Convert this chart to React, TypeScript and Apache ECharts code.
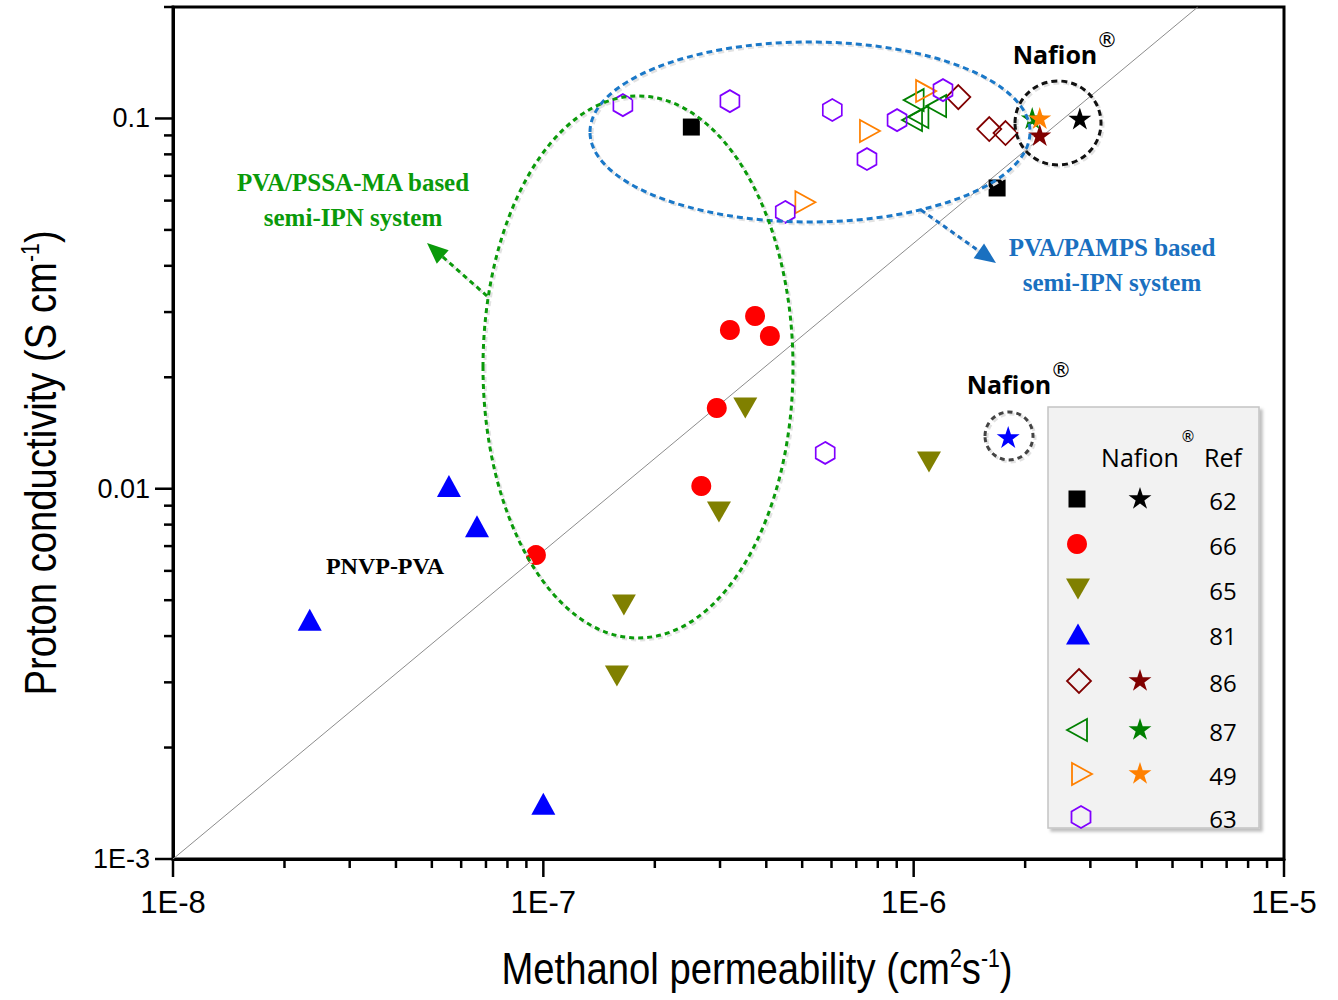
import React, { useEffect, useRef } from 'react';
import * as echarts from 'echarts';

// ---------- axis data ----------
const X_MIN = 1e-8;
const X_MAX = 1e-5;
const Y_MIN = 1e-3;
const Y_MAX = 0.2;
const xMajorTicks = [1e-8, 1e-7, 1e-6, 1e-5];
const xTickLabels = ['1E-8', '1E-7', '1E-6', '1E-5'];
const yMajorTicks = [1e-3, 1e-2, 1e-1];
const yTickLabels = ['1E-3', '0.01', '0.1'];
const xDecades = [1e-8, 1e-7, 1e-6];
const yDecades = [1e-3, 1e-2, 1e-1];
const minorMultipliers = [2, 3, 4, 5, 6, 7, 8, 9];
const xTitle = 'Methanol permeability (cm{sup|2}s{sup|-1})';
const yTitle = 'Proton conductivity (S cm{sup|-1})';

// ---------- series data [methanol permeability, proton conductivity] ----------
const ref62 = [[2.51e-7, 0.0948], [1.68e-6, 0.0649]];
const nafion62 = [[2.81e-6, 0.1]];
const ref66 = [
  [9.55e-8, 0.00662], [2.67e-7, 0.01017], [2.94e-7, 0.01652],
  [3.19e-7, 0.02683], [3.73e-7, 0.02927], [4.09e-7, 0.02585],
];
const ref65 = [
  [3.51e-7, 0.01652], [2.98e-7, 0.00865], [1.65e-7, 0.00485],
  [1.58e-7, 0.00312], [1.10e-6, 0.0118],
];
const ref81 = [[5.56e-8, 0.01017], [6.62e-8, 0.00792], [2.34e-8, 0.00443], [1.0e-7, 0.00141]];
const nafion81 = [[1.8e-6, 0.0138]];
const ref86 = [[1.32e-6, 0.1142], [1.6e-6, 0.0936], [1.77e-6, 0.0913]];
const nafion86 = [[2.19e-6, 0.0902]];
const ref87 = [[1.0e-6, 0.1121], [1.15e-6, 0.108], [9.9e-7, 0.099], [1.03e-6, 0.1009]];
const nafion87 = [[2.09e-6, 0.1003]];
const ref49 = [[7.62e-7, 0.0925], [5.1e-7, 0.0594], [1.08e-6, 0.1186]];
const nafion49 = [[2.19e-6, 0.1003]];
const ref63 = [
  [1.64e-7, 0.1087], [3.19e-7, 0.1114], [6.03e-7, 0.1054], [7.48e-7, 0.0777],
  [9.02e-7, 0.099], [1.2e-6, 0.1193], [4.5e-7, 0.0559], [5.77e-7, 0.01249],
];
const diagonalLine = [[1e-8, 1e-3], [5.85e-6, 0.2]];

const legendRefs = ['62', '66', '65', '81', '86', '87', '49', '63'];

// ---------- styling ----------
const SANS = "'Liberation Sans', Arial, sans-serif";
const SERIF = "'Liberation Serif', 'Times New Roman', serif";
const UI = "'Open Sans', 'Noto Sans', sans-serif";

const STAR_PATH =
  'path://M0,-1L0.2245,-0.309L0.951,-0.309L0.363,0.118L0.588,0.809L0,0.382L-0.588,0.809L-0.363,0.118L-0.951,-0.309L-0.2245,-0.309Z';
const HEX_PATH = 'path://M0,-1L0.866,-0.5L0.866,0.5L0,1L-0.866,0.5L-0.866,-0.5Z';

const BLACK = '#000000';
const RED = '#ff0000';
const OLIVE = '#808000';
const BLUE = '#0000ff';
const MAROON = '#800000';
const GREEN = '#008000';
const ORANGE = '#ff8000';
const VIOLET = '#8000ff';
const TXT_GREEN = '#0a9a0a';
const TXT_BLUE = '#1a70c0';

function scatter(name: string, data: number[][], symbol: string, size: any, color: string, hollow: boolean, rotate = 0, z = 3) {
  return {
    type: 'scatter',
    name,
    data,
    symbol,
    symbolSize: size,
    symbolRotate: rotate,
    silent: true,
    z,
    itemStyle: hollow
      ? { color: 'rgba(0,0,0,0)', borderColor: color, borderWidth: 1.8, opacity: 1 }
      : { color, borderWidth: 0, opacity: 1 },
    emphasis: { disabled: true },
  };
}

// ---------- pixel helpers for annotations / legend ----------
function starPts(cx: number, cy: number, r: number) {
  const pts: number[][] = [];
  for (let i = 0; i < 10; i++) {
    const a = -Math.PI / 2 + (i * Math.PI) / 5;
    const rr = i % 2 === 0 ? r : r * 0.382;
    pts.push([cx + rr * Math.cos(a), cy + rr * Math.sin(a)]);
  }
  return pts;
}
function hexPts(cx: number, cy: number, w: number, h: number) {
  return [
    [cx, cy - h / 2], [cx + w / 2, cy - h / 4], [cx + w / 2, cy + h / 4],
    [cx, cy + h / 2], [cx - w / 2, cy + h / 4], [cx - w / 2, cy - h / 4],
  ];
}
function triPts(cx: number, cy: number, w: number, h: number, dir: string) {
  if (dir === 'up') return [[cx, cy - h / 2], [cx + w / 2, cy + h / 2], [cx - w / 2, cy + h / 2]];
  if (dir === 'down') return [[cx, cy + h / 2], [cx + w / 2, cy - h / 2], [cx - w / 2, cy - h / 2]];
  if (dir === 'left') return [[cx - w / 2, cy], [cx + w / 2, cy - h / 2], [cx + w / 2, cy + h / 2]];
  return [[cx + w / 2, cy], [cx - w / 2, cy - h / 2], [cx - w / 2, cy + h / 2]];
}
function diamondPts(cx: number, cy: number, w: number, h: number) {
  return [[cx, cy - h / 2], [cx + w / 2, cy], [cx, cy + h / 2], [cx - w / 2, cy]];
}
function arrow(x1: number, y1: number, x2: number, y2: number, color: string) {
  const dx = x2 - x1;
  const dy = y2 - y1;
  const len = Math.sqrt(dx * dx + dy * dy);
  const ux = dx / len;
  const uy = dy / len;
  const L = 21;
  const W = 9;
  const bx = x2 - ux * L;
  const by = y2 - uy * L;
  return [
    {
      type: 'line',
      shape: { x1: x1 + 2, y1: y1 + 2, x2: bx + 2, y2: by + 2 },
      style: { stroke: '#e2e2e2', lineWidth: 3, lineDash: [5, 4] },
      z: 50,
    },
    {
      type: 'line',
      shape: { x1, y1, x2: bx, y2: by },
      style: { stroke: color, lineWidth: 3, lineDash: [5, 4] },
      z: 51,
    },
    {
      type: 'polygon',
      shape: { points: [[x2, y2], [bx - uy * W, by + ux * W], [bx + uy * W, by - ux * W]] },
      style: { fill: color },
      z: 51,
    },
  ];
}
function dashedEllipse(cx: number, cy: number, rx: number, ry: number, color: string, dash: number[]) {
  return [
    {
      type: 'ellipse',
      shape: { cx: cx + 2, cy: cy + 2, rx, ry },
      style: { fill: 'none', stroke: '#e2e2e2', lineWidth: 3, lineDash: dash },
      z: 50,
    },
    {
      type: 'ellipse',
      shape: { cx, cy, rx, ry },
      style: { fill: 'none', stroke: color, lineWidth: 3, lineDash: dash },
      z: 51,
    },
  ];
}
function txt(text: string, x: number, y: number, size: number, family: string, weight: string, fill: string, align = 'center') {
  return {
    type: 'text',
    z: 60,
    style: {
      text, x, y, fontSize: size, fontFamily: family, fontWeight: weight, fill,
      align, verticalAlign: 'middle', textAlign: align, textVerticalAlign: 'middle',
    },
  };
}
function axisTitle(text: string, x: number, y: number, rotation: number) {
  return {
    type: 'text',
    x,
    y,
    rotation,
    scaleX: 0.85,
    scaleY: 1,
    z: 60,
    style: {
      text,
      x: 0,
      y: 0,
      fontSize: 45,
      fontFamily: SANS,
      fill: '#000',
      align: 'center',
      verticalAlign: 'middle',
      textAlign: 'center',
      textVerticalAlign: 'middle',
      rich: {
        sup: { fontSize: 25, fontFamily: SANS, fill: '#000', verticalAlign: 'top', padding: [0, 0, 14, 0] },
      },
    },
  };
}

function buildOption() {
  const xTickData: number[][] = [];
  xMajorTicks.forEach((v) => xTickData.push([v, Y_MIN, 1, 0]));
  xDecades.forEach((d) => minorMultipliers.forEach((m) => xTickData.push([d * m, Y_MIN, 0, 0])));
  const yTickData: number[][] = [];
  yMajorTicks.forEach((v) => yTickData.push([X_MIN, v, 1, 1]));
  yDecades.forEach((d) =>
    minorMultipliers.forEach((m) => {
      if (d * m <= Y_MAX * 1.0001) yTickData.push([X_MIN, d * m, 0, 1]);
    })
  );

  const labelFor = (v: number, majors: number[], labels: string[]) => {
    const l = Math.log10(v);
    for (let i = 0; i < majors.length; i++) {
      if (Math.abs(Math.log10(majors[i]) - l) < 1e-6) return labels[i];
    }
    return '';
  };

  // legend layout (pixel)
  const LX = 1077;
  const SX = 1140;
  const NX = 1223;
  const rowY = [499, 544, 589, 634, 681, 730, 774, 817];
  const legendEls: any[] = [
    {
      type: 'rect',
      shape: { x: 1048, y: 407, width: 211, height: 421 },
      style: {
        fill: '#f2f2f2', stroke: '#c4c4c4', lineWidth: 1.5,
        shadowBlur: 3, shadowColor: 'rgba(0,0,0,0.25)', shadowOffsetX: 3, shadowOffsetY: 3,
      },
      z: 70,
    },
    { ...txt('Nafion', SX, 457, 25, UI, 'normal', '#000'), z: 71 },
    { ...txt('®', 1188, 437, 15, "'DejaVu Sans', sans-serif", 'normal', '#000'), z: 71 },
    { ...txt('Ref', NX, 457, 25, UI, 'normal', '#000'), z: 71 },
  ];
  const filled = (color: string) => ({ fill: color });
  const hollow = (color: string) => ({ fill: 'none', stroke: color, lineWidth: 1.8 });
  const shapes: any[] = [
    { type: 'rect', shape: { x: LX - 8.5, y: rowY[0] - 8.5, width: 17, height: 17 }, style: filled(BLACK) },
    { type: 'circle', shape: { cx: LX, cy: rowY[1], r: 10 }, style: filled(RED) },
    { type: 'polygon', shape: { points: triPts(LX + 1, rowY[2], 24, 21, 'down') }, style: filled(OLIVE) },
    { type: 'polygon', shape: { points: triPts(LX + 1, rowY[3], 24, 21, 'up') }, style: filled(BLUE) },
    { type: 'polygon', shape: { points: diamondPts(LX + 2, rowY[4], 24, 24) }, style: hollow(MAROON) },
    { type: 'polygon', shape: { points: triPts(LX, rowY[5], 20, 22, 'left') }, style: hollow(GREEN) },
    { type: 'polygon', shape: { points: triPts(LX + 5, rowY[6], 20, 22, 'right') }, style: hollow(ORANGE) },
    { type: 'polygon', shape: { points: hexPts(LX + 4, rowY[7], 19, 22) }, style: hollow(VIOLET) },
  ];
  shapes.forEach((s) => legendEls.push({ ...s, z: 71 }));
  const stars: [number, string][] = [[0, BLACK], [4, MAROON], [5, GREEN], [6, ORANGE]];
  stars.forEach(([i, c]) =>
    legendEls.push({ type: 'polygon', shape: { points: starPts(SX, rowY[i], 12) }, style: filled(c), z: 71 })
  );
  legendRefs.forEach((r, i) => legendEls.push({ ...txt(r, NX, rowY[i] + 1, 24, UI, 'normal', '#000'), z: 71 }));

  const graphicEls: any[] = [
    ...dashedEllipse(810, 132, 220, 90, '#1a78c8', [6, 4]),
    ...dashedEllipse(638, 367, 155, 271, TXT_GREEN, [5, 4]),
    ...dashedEllipse(1058, 123, 43, 42, '#111111', [6, 4]),
    ...dashedEllipse(1009, 436, 24, 24, '#444444', [5, 4]),
    ...arrow(487, 296, 427, 243, TXT_GREEN),
    ...arrow(921, 210, 996, 263, '#1a70c0'),
    txt('PVA/PSSA-MA based', 353, 182, 25, SERIF, 'bold', TXT_GREEN),
    txt('semi-IPN system', 353, 217, 25, SERIF, 'bold', TXT_GREEN),
    txt('PVA/PAMPS based', 1112, 247, 25, SERIF, 'bold', TXT_BLUE),
    txt('semi-IPN system', 1112, 282, 25, SERIF, 'bold', TXT_BLUE),
    txt('PNVP-PVA', 385, 566, 24, SERIF, 'bold', '#000'),
    txt('Nafion', 1055, 54, 25, UI, 'bold', '#000'),
    txt('®', 1107, 40, 21, "'DejaVu Sans', sans-serif", 'normal', '#000'),
    txt('Nafion', 1009, 384, 25, UI, 'bold', '#000'),
    txt('®', 1061, 370, 21, "'DejaVu Sans', sans-serif", 'normal', '#000'),
    axisTitle(xTitle, 757, 968, 0),
    axisTitle(yTitle, 40, 463, Math.PI / 2),
    ...legendEls,
  ];

  const tickSeries = {
    type: 'custom',
    silent: true,
    clip: false,
    z: 10,
    data: [...xTickData, ...yTickData],
    encode: { x: 0, y: 1 },
    renderItem: (_p: any, api: any) => {
      const p = api.coord([api.value(0), api.value(1)]);
      const len = api.value(2) === 1 ? 18 : 9;
      const horiz = api.value(3) === 1;
      return {
        type: 'line',
        shape: horiz
          ? { x1: p[0], y1: p[1], x2: p[0] - len, y2: p[1] }
          : { x1: p[0], y1: p[1], x2: p[0], y2: p[1] + len },
        style: { stroke: '#000', lineWidth: 2.5 },
      };
    },
  };

  return {
    animation: false,
    backgroundColor: '#ffffff',
    grid: {
      left: 173, right: 54, top: 7, bottom: 141,
      show: true, borderColor: '#000', borderWidth: 3, backgroundColor: 'transparent',
    },
    xAxis: {
      type: 'log',
      logBase: 10,
      min: X_MIN,
      max: X_MAX,
      axisLine: { show: true, lineStyle: { color: '#000', width: 3 } },
      axisTick: { show: false },
      minorTick: { show: false },
      splitLine: { show: false },
      axisLabel: {
        color: '#000', fontFamily: SANS, fontSize: 31, margin: 28,
        showMinLabel: true, showMaxLabel: true,
        formatter: (v: number) => labelFor(v, xMajorTicks, xTickLabels),
      },
    },
    yAxis: {
      type: 'log',
      logBase: 10,
      min: Y_MIN,
      max: Y_MAX,
      axisLine: { show: true, lineStyle: { color: '#000', width: 3 } },
      axisTick: { show: false },
      minorTick: { show: false },
      splitLine: { show: false },
      axisLabel: {
        color: '#000', fontFamily: SANS, fontSize: 27, margin: 23,
        showMaxLabel: false,
        formatter: (v: number) => labelFor(v, yMajorTicks, yTickLabels),
      },
    },
    series: [
      {
        type: 'line',
        data: diagonalLine,
        symbol: 'none',
        silent: true,
        z: 1,
        lineStyle: { color: '#8c8c8c', width: 1 },
      },
      tickSeries,
      scatter('62', ref62, 'rect', 17, BLACK, false),
      scatter('66', ref66, 'circle', 20, RED, false),
      scatter('65', ref65, 'triangle', [24, 21], OLIVE, false, 180),
      scatter('81', ref81, 'triangle', [24, 22], BLUE, false),
      scatter('86', ref86, 'diamond', [24, 24], MAROON, true),
      scatter('87', ref87, 'triangle', [22, 20], GREEN, true, 90),
      scatter('49', ref49, 'triangle', [22, 20], ORANGE, true, -90),
      scatter('63', ref63, HEX_PATH, [19, 22], VIOLET, true),
      scatter('Nafion 62', nafion62, STAR_PATH, [23, 22], BLACK, false, 0, 4),
      scatter('Nafion 81', nafion81, STAR_PATH, [23, 22], BLUE, false, 0, 4),
      scatter('Nafion 86', nafion86, STAR_PATH, [23, 22], MAROON, false, 0, 4),
      scatter('Nafion 87', nafion87, STAR_PATH, [23, 22], GREEN, false, 0, 4),
      scatter('Nafion 49', nafion49, STAR_PATH, [23, 22], ORANGE, false, 0, 5),
    ],
    graphic: { elements: graphicEls },
  };
}

export default function App() {
  const ref = useRef<HTMLDivElement>(null);
  useEffect(() => {
    document.body.style.margin = '0';
    if (!ref.current) return;
    const chart = echarts.init(ref.current, undefined, { renderer: 'svg' });
    chart.setOption(buildOption() as any);
    return () => chart.dispose();
  }, []);
  return <div ref={ref} style={{ width: 1338, height: 1000 }} />;
}
